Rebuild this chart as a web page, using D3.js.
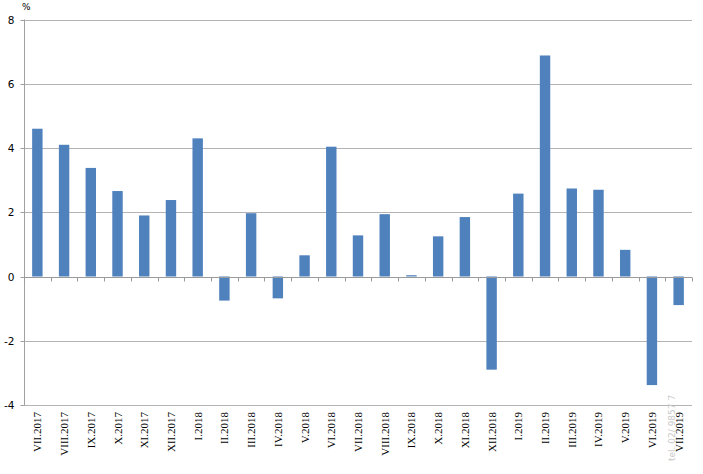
<!DOCTYPE html>
<html>
<head>
<meta charset="utf-8">
<script src="https://cdn.jsdelivr.net/npm/d3@7"></script>
<style>
  html, body { margin: 0; padding: 0; background: #fff; }
  svg { display: block; }
</style>
</head>
<body>
<svg id="chart" width="703" height="474"></svg>
<script>
const categories = ["VII.2017","VIII.2017","IX.2017","X.2017","XI.2017","XII.2017",
  "I.2018","II.2018","III.2018","IV.2018","V.2018","VI.2018","VII.2018","VIII.2018",
  "IX.2018","X.2018","XI.2018","XII.2018","I.2019","II.2019","III.2019","IV.2019",
  "V.2019","VI.2019","VII.2019"];
const values = [4.6, 4.1, 3.38, 2.66, 1.9, 2.38, 4.3, -0.75, 1.97, -0.68, 0.66, 4.04,
  1.28, 1.94, 0.04, 1.25, 1.85, -2.9, 2.58, 6.88, 2.74, 2.7, 0.83, -3.38, -0.89];
const yTicks = [-4, -2, 0, 2, 4, 6, 8];
const unitLabel = "%";
const watermark = "tel. 02/ 9857 7";

(function () {
const svg = d3.select("#chart");
const pLeft = 24, pRight = 692, pTop = 19.5, pBottom = 405;

const x = d3.scaleBand().domain(categories).range([pLeft, pRight])
  .paddingInner(0.61).paddingOuter(0.305);
const y = d3.scaleLinear().domain([-4, 8]).range([pBottom, pTop]);
const step = x.step();

// gridlines
svg.append("g").selectAll("line").data(yTicks.filter(d => d !== 0)).join("line")
  .attr("x1", pLeft).attr("x2", pRight)
  .attr("y1", d => Math.round(y(d)) + 0.5).attr("y2", d => Math.round(y(d)) + 0.5)
  .attr("stroke", "#b3b3b3").attr("stroke-width", 1);

// y axis
const yAxis = d3.axisLeft(y).tickValues(yTicks).tickSize(4).tickPadding(6)
  .tickFormat(d => d < 0 ? "-" + Math.abs(d) : String(d));
const gy = svg.append("g").attr("transform", `translate(${pLeft + 0.5},0)`).call(yAxis);
gy.select(".domain").attr("stroke", "#a0a0a0").attr("d", `M0,${pBottom}V${pTop}`);
gy.selectAll(".tick line").attr("stroke", "#a0a0a0");
gy.selectAll(".tick text").attr("fill", "#000")
  .style("font-family", "'DejaVu Sans', sans-serif").style("font-size", "10.5px");
gy.selectAll(".tick").attr("transform", d => `translate(0,${Math.round(y(d)) + 0.5})`);

// bars
svg.append("g").selectAll("rect").data(values).join("rect")
  .attr("x", (d, i) => x(categories[i]))
  .attr("width", x.bandwidth())
  .attr("y", d => y(Math.max(0, d)))
  .attr("height", d => Math.abs(y(d) - y(0)))
  .attr("fill", "#4f81bd");

// zero axis line with category tick marks
const y0 = Math.round(y(0)) + 0.5;
svg.append("line").attr("x1", pLeft).attr("x2", pRight).attr("y1", y0).attr("y2", y0)
  .attr("stroke", "#9a9a9a");
svg.append("g").selectAll("line").data(d3.range(categories.length + 1)).join("line")
  .attr("x1", i => Math.round(pLeft + i * step) + 0.5)
  .attr("x2", i => Math.round(pLeft + i * step) + 0.5)
  .attr("y1", y0).attr("y2", y0 + 4)
  .attr("stroke", "#9a9a9a");

// category labels
svg.append("g").selectAll("text").data(categories).join("text")
  .attr("transform", d => `translate(${x(d) + x.bandwidth() / 2 + 4},412) rotate(-90)`)
  .attr("text-anchor", "end")
  .style("font-family", "'Liberation Serif', 'Times New Roman', serif")
  .style("font-size", "11px")
  .attr("fill", "#000")
  .text(d => d);

// unit label
svg.append("text").attr("x", 22).attr("y", 10)
  .style("font-family", "'DejaVu Sans', sans-serif").style("font-size", "9px")
  .text(unitLabel);

// watermark
svg.append("text").attr("transform", "translate(675,461) rotate(-90)")
  .attr("text-anchor", "start")
  .style("font-family", "'DejaVu Sans', sans-serif").style("font-size", "9px")
  .attr("fill", "#c8c8c8")
  .text(watermark);
})();
</script>
</body>
</html>
